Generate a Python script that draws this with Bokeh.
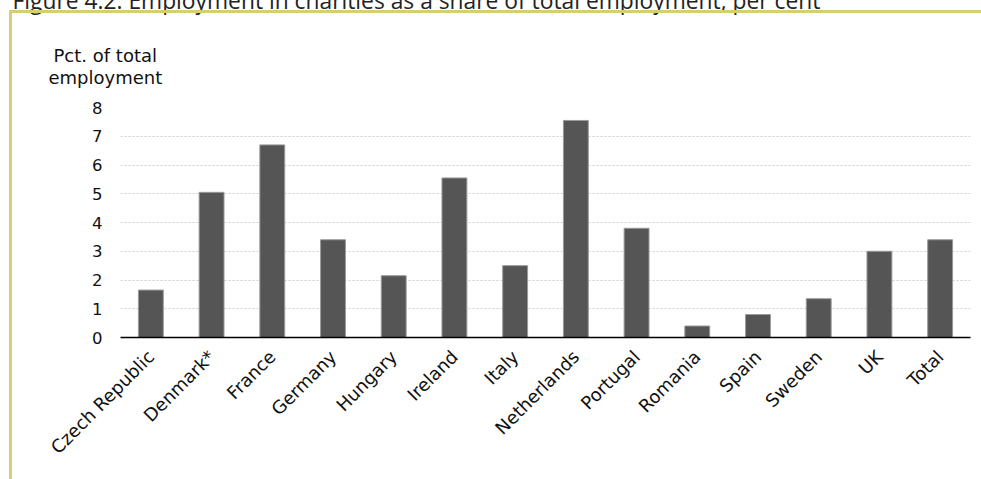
from bokeh.plotting import figure
from bokeh.models import Title, FixedTicker, InlineStyleSheet
from bokeh.embed import file_html
from bokeh.resources import INLINE
import math

countries = ["Czech Republic", "Denmark*", "France", "Germany", "Hungary", "Ireland",
             "Italy", "Netherlands", "Portugal", "Romania", "Spain", "Sweden", "UK", "Total"]
shares = [1.65, 5.05, 6.7, 3.4, 2.15, 5.55, 2.5, 7.55, 3.8, 0.4, 0.8, 1.35, 3.0, 3.4]
y_ticks = [0, 1, 2, 3, 4, 5, 6, 7, 8]
title_text = "Figure 4.2. Employment in charities as a share of total employment, per cent"
ylabel_lines = ["Pct. of total", "employment"]

W, H = 981, 479
FL, FR, FT, FB = 120, 970, 107, 337  # frame edges in screen px
YMAX = 8

p = figure(x_range=countries, y_range=(0, YMAX), width=W, height=H,
           output_backend="svg", toolbar_location=None,
           min_border_left=FL, min_border_right=W - FR,
           min_border_top=FT, min_border_bottom=H - FB)
p.outline_line_color = None
p.background_fill_color = "white"
p.border_fill_color = "white"

p.vbar(x=countries, top=shares, width=0.41, fill_color="#555555",
       line_color="#9a9a9a", line_width=1)

# axes
p.xgrid.grid_line_color = None
p.ygrid.grid_line_color = "#cfcfcf"
p.ygrid.grid_line_dash = "2 2"
p.ygrid.grid_line_width = 1
p.yaxis.ticker = FixedTicker(ticks=y_ticks)
p.yaxis.axis_line_color = None
p.yaxis.major_tick_line_color = None
p.yaxis.minor_tick_line_color = None
p.yaxis.major_tick_out = 0
p.yaxis.major_tick_in = 0
p.yaxis.major_label_standoff = 18
p.yaxis.major_label_text_font = "DejaVu Sans"
p.yaxis.major_label_text_font_size = "16.5px"
p.yaxis.major_label_text_color = "#111111"

p.xaxis.axis_line_color = "black"
p.xaxis.axis_line_width = 1.5
p.xaxis.major_tick_line_color = None
p.xaxis.minor_tick_line_color = None
p.xaxis.major_label_orientation = math.pi / 4
p.xaxis.major_label_standoff = 10
p.xaxis.major_label_text_font = "DejaVu Sans"
p.xaxis.major_label_text_font_size = "18px"
p.xaxis.major_label_text_color = "#111111"

# texts above the frame, as titles in the top panel (nearest first)
p.add_layout(Title(text=ylabel_lines[0], align="left", offset=-67,
                   vertical_align="middle", standoff=82,
                   text_font="DejaVu Sans", text_font_size="18px",
                   text_font_style="normal", text_color="#111111"), "above")
p.add_layout(Title(text=ylabel_lines[1], align="left", offset=-72,
                   vertical_align="bottom", standoff=-170,
                   text_font="DejaVu Sans", text_font_size="18px",
                   text_font_style="normal", text_color="#111111"), "above")
p.add_layout(Title(text=title_text, align="left", offset=-108,
                   vertical_align="top", standoff=-31,
                   text_font="Open Sans", text_font_size="22.8px",
                   text_font_style="normal", text_color="#222222"), "above")

p.stylesheets = [InlineStyleSheet(css="""
:host { position: relative; }
:host::after {
  content: ""; position: absolute; left: 9px; top: 10px; right: 0; bottom: 0;
  border-top: 3px solid #d5d06c; border-left: 3px solid #d5d06c;
  pointer-events: none; box-sizing: border-box;
}
""")]

open("out.html", "w").write(file_html(p, INLINE))
